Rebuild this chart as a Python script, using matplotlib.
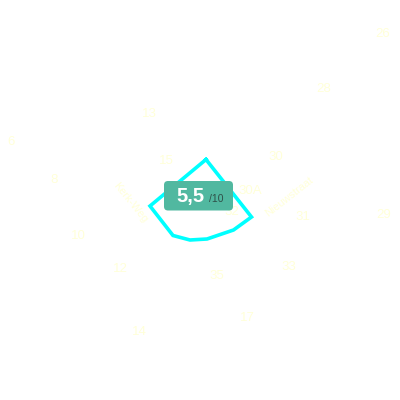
import matplotlib.pyplot as plt
from matplotlib.patches import FancyBboxPatch

plt.rcParams['font.family'] = ['Liberation Sans', 'DejaVu Sans']

# --- map data (pixel coordinates of the 400x400 tile) ---
house_numbers = ['26', '28', '30', '30A', '13', '6', '15', '8', '10', '12',
                 '35', '33', '31', '29', '17', '14', '32']
house_x = [383, 324, 276, 250, 149, 11, 166, 54, 78, 120,
           217, 289, 303, 384, 247, 139, 232]
house_y = [34, 89, 157, 191, 114, 142, 161, 180, 236, 269,
           276, 267, 217, 215, 318, 332, 212]

streets = ['Kerk-Weg', 'Nieuwstraat']
street_x = [130, 289]
street_y = [203, 197]
street_angle = [-51, 38]

# parcel outline
parcel_x = [206, 251.5, 233.5, 207, 190, 173, 150, 206]
parcel_y = [159.5, 217, 230, 239, 240, 235.5, 206, 159.5]

score = '5,5'
score_max = '/10'

fig = plt.figure(figsize=(4, 4), dpi=100)
ax = fig.add_axes([0, 0, 1, 1])
ax.set_xlim(0, 400)
ax.set_ylim(400, 0)
ax.axis('off')

label_color = '#ffffd9'
for txt, x, y in zip(house_numbers, house_x, house_y):
    ax.text(x, y, txt, color=label_color, fontsize=9.5,
            ha='center', va='center', zorder=1)

for txt, x, y, a in zip(streets, street_x, street_y, street_angle):
    ax.text(x, y, txt, color=label_color, fontsize=7.8, rotation=a,
            rotation_mode='anchor', ha='center', va='center', zorder=1)

ax.plot(parcel_x, parcel_y, color='#00ffff', lw=2.6,
        solid_joinstyle='miter', zorder=2)

# score badge
badge = FancyBboxPatch((164, 181), 69, 29.5,
                       boxstyle='round,pad=0,rounding_size=4',
                       facecolor='#51b8a0', edgecolor='none', zorder=3)
ax.add_patch(badge)
ax.text(190.5, 196.5, score, color='white', fontsize=14.5, fontweight='bold',
        ha='center', va='center', zorder=4)
ax.text(216.5, 198.5, score_max, color='#2f5048', fontsize=7.5,
        ha='center', va='center', zorder=4)

fig.savefig('out.png', dpi=100)
